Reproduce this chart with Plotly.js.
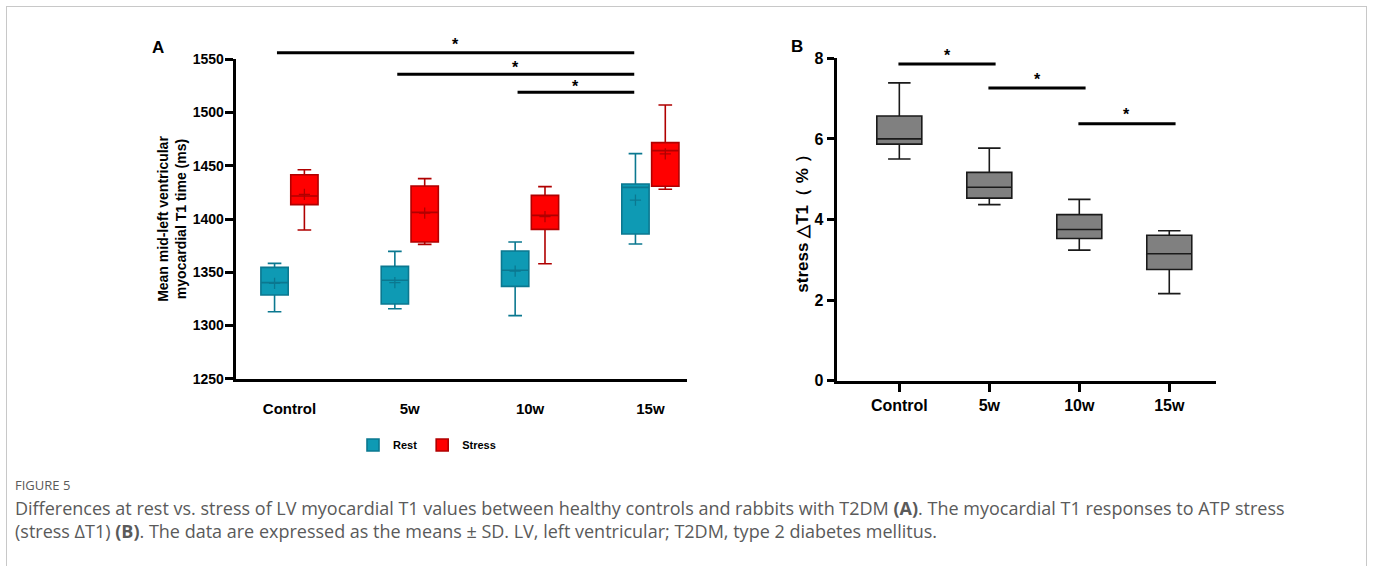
<!DOCTYPE html>
<html><head><meta charset="utf-8">
<script src="https://cdn.plot.ly/plotly-3.0.1.min.js"></script>
<style>
body{margin:0;background:#fff}
#chart{width:1373px;height:566px}
#frame{position:absolute;left:6px;top:6px;width:1359px;height:700px;border:1px solid #c8c8c8;pointer-events:none}
</style>
</head><body>
<div id="chart"></div><div id="frame"></div>
<script>
// ---------- data ----------
const categories = ['Control', '5w', '10w', '15w'];

// Panel A: mean mid-left ventricular myocardial T1 time (ms)
const restLower  = [1312.9, 1315.7, 1309.2, 1376.5];
const restQ1     = [1328.6, 1320.1, 1336.7, 1385.9];
const restMedian = [1340.2, 1342.4, 1351.8, 1429.7];
const restQ3     = [1354.6, 1355.5, 1369.9, 1432.9];
const restUpper  = [1358.3, 1369.6, 1378.4, 1461.4];
const restMean   = [1339.5, 1340.2, 1351.1, 1417.8];

const stressLower  = [1389.7, 1376.2, 1358.0, 1427.9];
const stressQ1     = [1413.5, 1378.4, 1390.3, 1430.7];
const stressMedian = [1421.6, 1406.2, 1403.4, 1464.2];
const stressQ3     = [1441.6, 1431.0, 1422.2, 1471.7];
const stressUpper  = [1446.3, 1437.9, 1430.4, 1507.1];
const stressMean   = [1423.2, 1405.6, 1402.2, 1461.1];

// Panel B: stress ΔT1 (%)
const deltaLower  = [5.50, 4.37, 3.24, 2.16];
const deltaQ1     = [5.87, 4.53, 3.53, 2.76];
const deltaMedian = [6.00, 4.80, 3.75, 3.15];
const deltaQ3     = [6.57, 5.17, 4.12, 3.61];
const deltaUpper  = [7.39, 5.77, 4.50, 3.72];

// significance comparisons (category indices)
const sigAFrom = [0, 1, 2];
const sigATo   = [3, 3, 3];
const sigBFrom = [0, 1, 2];
const sigBTo   = [1, 2, 3];

const yTicksA = [1250, 1300, 1350, 1400, 1450, 1500, 1550];
const yTicksB = [0, 2, 4, 6, 8];

// ---------- styling ----------
const W = 1373, H = 566;
const py = p => 1 - p / H;   // pixel row -> paper y
const px = p => p / W;       // pixel column -> paper x
const FONT = 'Arial, "Liberation Sans", sans-serif';
const REST_FILL = '#0e9ab4', REST_LINE = '#0b7890';
const STRESS_FILL = '#ff0000', STRESS_LINE = '#b00000';
const OFF = 0.124, BW = 0.227;
const idx = categories.map((_, i) => i);

const traces = [
  {
    type: 'box', name: 'Rest', xaxis: 'x', yaxis: 'y',
    x: idx.map(i => i - OFF), q1: restQ1, median: restMedian, q3: restQ3,
    lowerfence: restLower, upperfence: restUpper, width: BW,
    fillcolor: REST_FILL, line: {color: REST_LINE, width: 1.6}, whiskerwidth: 0.5,
    boxpoints: false, hoverinfo: 'skip'
  },
  {
    type: 'box', name: 'Stress', xaxis: 'x', yaxis: 'y',
    x: idx.map(i => i + OFF), q1: stressQ1, median: stressMedian, q3: stressQ3,
    lowerfence: stressLower, upperfence: stressUpper, width: BW,
    fillcolor: STRESS_FILL, line: {color: STRESS_LINE, width: 1.6}, whiskerwidth: 0.5,
    boxpoints: false, hoverinfo: 'skip'
  },
  {
    type: 'scatter', mode: 'markers', showlegend: false, xaxis: 'x', yaxis: 'y',
    x: idx.map(i => i - OFF), y: restMean,
    marker: {symbol: 'cross-thin', size: 8, line: {color: REST_LINE, width: 1.3}}
  },
  {
    type: 'scatter', mode: 'markers', showlegend: false, xaxis: 'x', yaxis: 'y',
    x: idx.map(i => i + OFF), y: stressMean,
    marker: {symbol: 'cross-thin', size: 8, line: {color: STRESS_LINE, width: 1.3}}
  },
  {
    type: 'box', name: 'stress ΔT1', showlegend: false, xaxis: 'x2', yaxis: 'y2',
    x: categories, q1: deltaQ1, median: deltaMedian, q3: deltaQ3,
    lowerfence: deltaLower, upperfence: deltaUpper, width: 0.5,
    fillcolor: '#808080', line: {color: '#1a1a1a', width: 1.6}, whiskerwidth: 0.5,
    boxpoints: false, hoverinfo: 'skip'
  }
];

const shapes = [];
const annotations = [];
const starFont = {family: FONT, size: 16, color: '#000', weight: 'bold'};
const sigAY = [52.7, 74.3, 92.3], sigAStar = [44.5, 67.5, 86.5];
sigAFrom.forEach((f, k) => {
  const x0 = f - OFF + 0.02, x1 = sigATo[k] - OFF - 0.01;
  shapes.push({type: 'line', xref: 'x', yref: 'paper', x0, x1, y0: py(sigAY[k]), y1: py(sigAY[k]),
    line: {color: '#000', width: 3}});
  annotations.push({xref: 'x', yref: 'paper', x: (x0 + x1) / 2, y: py(sigAStar[k]), text: '*',
    xanchor: 'center', yanchor: 'middle', showarrow: false, font: starFont});
});
const sigBY = [64, 88, 123.7], sigBStar = [55.5, 79.5, 114.5];
sigBFrom.forEach((f, k) => {
  const x0 = f - 0.01, x1 = sigBTo[k] + 0.07;
  shapes.push({type: 'line', xref: 'x2', yref: 'paper', x0, x1, y0: py(sigBY[k]), y1: py(sigBY[k]),
    line: {color: '#000', width: 3}});
  annotations.push({xref: 'x2', yref: 'paper', x: (x0 + x1) / 2, y: py(sigBStar[k]), text: '*',
    xanchor: 'center', yanchor: 'middle', showarrow: false, font: starFont});
});

// panel letters
const letterFont = {family: FONT, size: 17, color: '#000', weight: 'bold'};
annotations.push({xref: 'paper', yref: 'paper', x: px(158), y: py(47), xanchor: 'center', yanchor: 'middle',
  text: 'A', showarrow: false, font: letterFont});
annotations.push({xref: 'paper', yref: 'paper', x: px(797), y: py(46), xanchor: 'center', yanchor: 'middle',
  text: 'B', showarrow: false, font: letterFont});

// caption
const CAP = '"Open Sans", "Noto Sans", sans-serif';
annotations.push({xref: 'paper', yref: 'paper', x: px(13), y: py(485), xanchor: 'left', yanchor: 'middle',
  text: 'FIGURE 5', showarrow: false, font: {family: CAP, size: 13, color: '#5a5a5a'}});
annotations.push({xref: 'paper', yref: 'paper', x: px(13), y: py(508), xanchor: 'left', yanchor: 'middle',
  text: 'Differences at rest vs. stress of LV myocardial T1 values between healthy controls and rabbits with T2DM <b>(A)</b>. The myocardial T1 responses to ATP stress',
  showarrow: false, font: {family: CAP, size: 18, color: '#5a5a5a'}});
annotations.push({xref: 'paper', yref: 'paper', x: px(13), y: py(531), xanchor: 'left', yanchor: 'middle',
  text: '(stress ΔT1) <b>(B)</b>. The data are expressed as the means ± SD. LV, left ventricular; T2DM, type 2 diabetes mellitus.',
  showarrow: false, font: {family: CAP, size: 18, color: '#5a5a5a'}});

const axisCommon = {
  showgrid: false, zeroline: false, showline: true, linecolor: '#000', linewidth: 3,
  ticks: 'outside', tickcolor: '#000', tickwidth: 3, fixedrange: true
};

const layout = {
  width: W, height: H,
  margin: {l: 0, r: 0, t: 0, b: 0},
  paper_bgcolor: 'rgba(0,0,0,0)', plot_bgcolor: 'rgba(0,0,0,0)',
  font: {family: FONT, color: '#000'},
  showlegend: true,
  legend: {orientation: 'h', x: px(353), y: py(445), xanchor: 'left', yanchor: 'middle',
    font: {family: FONT, size: 11, color: '#000', weight: 'bold'}, itemclick: false, itemdoubleclick: false},
  xaxis: Object.assign({}, axisCommon, {
    domain: [px(235.7), px(687.3)], anchor: 'y', type: 'linear', range: [-0.447, 3.307],
    tickvals: idx, ticktext: categories, ticklen: 14, tickcolor: 'rgba(0,0,0,0)',
    tickfont: {family: FONT, size: 15, weight: 'bold', color: '#000'}
  }),
  yaxis: Object.assign({}, axisCommon, {
    domain: [py(378.7), py(59.3)], anchor: 'x', range: [1250, 1550], tickvals: yTicksA, ticklen: 8,
    ticklabelstandoff: -2,
    tickfont: {family: FONT, size: 14, weight: 'bold', color: '#000'},
    title: {text: 'Mean mid-left ventricular<br>myocardial T1 time (ms)', standoff: 3,
      font: {family: FONT, size: 14, weight: 'bold', color: '#000'}}
  }),
  xaxis2: Object.assign({}, axisCommon, {
    domain: [px(836.7), px(1215.7)], anchor: 'y2', type: 'category', range: [-0.696, 3.516],
    ticklen: 8, ticklabelstandoff: 0,
    tickfont: {family: FONT, size: 16, weight: 'bold', color: '#000'}
  }),
  yaxis2: Object.assign({}, axisCommon, {
    domain: [py(380.7), py(58.3)], anchor: 'x2', range: [0, 8], tickvals: yTicksB, ticklen: 7,
    tickfont: {family: FONT, size: 16, weight: 'bold', color: '#000'},
    title: {text: 'stress △T1（ % ）', standoff: 2,
      font: {family: FONT, size: 17, weight: 'bold', color: '#000'}}
  }),
  shapes, annotations
};

Plotly.newPlot('chart', traces, layout, {displayModeBar: false, staticPlot: true});
</script>
</body></html>
